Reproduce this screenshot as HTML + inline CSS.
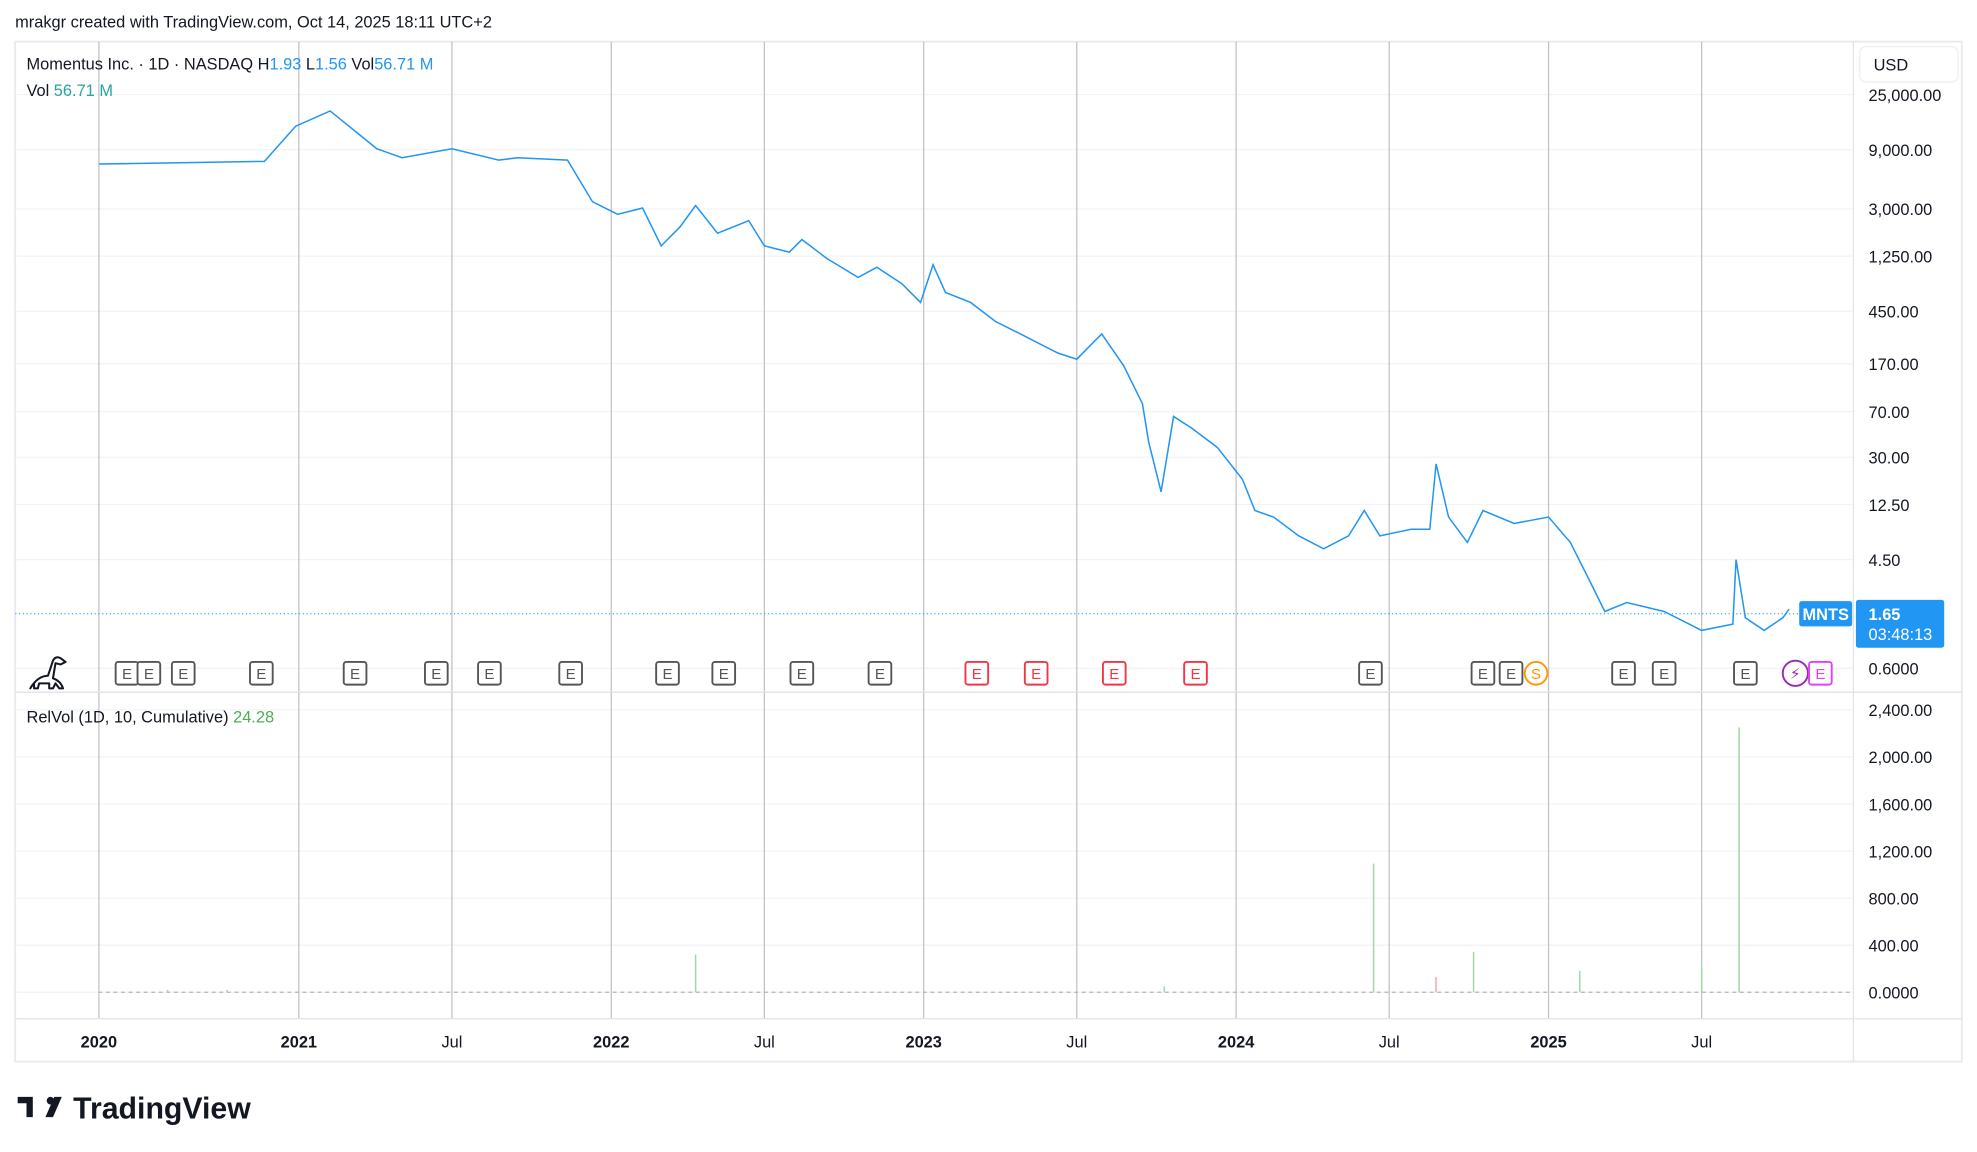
<!DOCTYPE html>
<html><head><meta charset="utf-8"><style>
html,body{margin:0;padding:0;background:#fff;}
svg{display:block;font-family:"Liberation Sans","DejaVu Sans",sans-serif;}
</style></head><body>
<svg id="chart" width="1977" height="1152" viewBox="0 0 1568 913.7" xmlns="http://www.w3.org/2000/svg" xml:space="preserve">
<rect x="0" y="0" width="1568" height="914" fill="#fff"/>
<text x="12" y="22" font-size="13" fill="#131722">mrakgr created with TradingView.com, Oct 14, 2025 18:11 UTC+2</text>
<rect x="12" y="33" width="1544" height="809" fill="none" stroke="#e8eaef" stroke-width="1.5"/>
<g id="grid"></g>
<line x1="1470" y1="33" x2="1470" y2="842" stroke="#e0e3eb"/>
<line x1="12" y1="549" x2="1556" y2="549" stroke="#e0e3eb"/>
<line x1="12" y1="808" x2="1556" y2="808" stroke="#e0e3eb"/>
<g id="bars"></g>
<g id="price"></g>
<g id="axes"></g>
<g id="events"></g>
<text x="21" y="55" font-size="13" fill="#131722">Momentus Inc. · 1D · NASDAQ  H<tspan fill="#2196f3">1.93</tspan>  L<tspan fill="#2196f3">1.56</tspan>  Vol<tspan fill="#2196f3">56.71 M</tspan></text>
<text x="21" y="76" font-size="13" fill="#131722">Vol  <tspan fill="#26a69a">56.71 M</tspan></text>
<text x="21" y="573" font-size="13" fill="#131722">RelVol (1D, 10, Cumulative)  <tspan fill="#4caf50">24.28</tspan></text>
<rect x="1475" y="37" width="78" height="28" rx="5" fill="#fff" stroke="#eceef2"/>
<text x="1486" y="56" font-size="13" fill="#131722">USD</text>
<g>
<path d="M14 870 h12 v16 h-5 v-11 h-7 z" fill="#131722"/>
<circle cx="40" cy="873" r="3" fill="#131722"/>
<path d="M36 886 l7 -16 h6 l-7 16 z" fill="#131722"/>
<text x="58" y="887" font-size="24" font-weight="bold" fill="#131722">TradingView</text>
</g>
<path d="M24 546 q6 -10 14 -10 l4 -12 q2 -4 6 -2 l4 3 l-4 2 l-4 -1 l-2 12 q6 2 8 8 h-3 l-3 -4 l-2 4 h-3 l0 -4 h-8 l-1 4 h-3 l0 -4 q-2 2 -3 4 z" fill="none" stroke="#131722" stroke-width="1.6" stroke-linejoin="round"/>
</svg>
<script>
const priceTicks=[25000,9000,3000,1250,450,170,70,30,12.5,4.5,0.6];
const priceTickLabels=["25,000.00","9,000.00","3,000.00","1,250.00","450.00","170.00","70.00","30.00","12.50","4.50","0.6000"];
const relTicks=[2400,2000,1600,1200,800,400,0];
const relTickLabels=["2,400.00","2,000.00","1,600.00","1,200.00","800.00","400.00","0.0000"];
const timeTicks=[2020.36,2021,2021.49,2022,2022.49,2023,2023.49,2024,2024.49,2025,2025.49];
const timeTickLabels=["2020","2021","Jul","2022","Jul","2023","Jul","2024","Jul","2025","Jul"];
const dates=[2020.36,2020.89,2020.99,2021.10,2021.25,2021.33,2021.49,2021.64,2021.70,2021.86,2021.94,2022.02,2022.10,2022.16,2022.22,2022.27,2022.34,2022.44,2022.49,2022.57,2022.61,2022.69,2022.79,2022.85,2022.93,2022.99,2023.03,2023.07,2023.15,2023.23,2023.31,2023.35,2023.43,2023.49,2023.57,2023.64,2023.70,2023.72,2023.76,2023.80,2023.86,2023.94,2024.02,2024.06,2024.12,2024.20,2024.28,2024.36,2024.41,2024.46,2024.56,2024.62,2024.64,2024.68,2024.74,2024.79,2024.89,2025.00,2025.07,2025.14,2025.18,2025.25,2025.37,2025.45,2025.49,2025.59,2025.60,2025.63,2025.69,2025.75,2025.77];
const prices=[6900,7240,13900,18450,9140,7760,9140,7410,7760,7410,3430,2716,3050,1513,2149,3197,1910,2415,1513,1346,1700,1198,843,1016,750,529,1065,637,529,372,295,262,207,185,295,164,81,40,15.8,64,51,36,20,11.2,9.9,7.0,5.5,7.0,11.2,7.0,7.9,7.9,26.5,9.9,6.2,11.2,8.8,9.9,6.2,2.75,1.72,2.03,1.72,1.36,1.21,1.36,4.5,1.53,1.21,1.53,1.80];
const relDates=[2020.58,2020.77,2022.27,2023.77,2024.44,2024.64,2024.76,2025.10,2025.49,2025.61];
const relValues=[20,20,321,50,1093,130,343,182,214,2250];
const relUp=[true,true,true,true,true,false,true,true,true,true];
const eventDates=[2020.45,2020.52,2020.63,2020.88,2021.18,2021.44,2021.61,2021.87,2022.18,2022.36,2022.61,2022.86,2023.17,2023.36,2023.61,2023.87,2024.43,2024.79,2024.88,2024.96,2025.24,2025.37,2025.63,2025.79,2025.87];
const eventTypes=["E","E","E","E","E","E","E","E","E","E","E","E","R","R","R","R","E","E","E","S","E","E","E","P","M"];
const currentPrice=1.65;

const NS="http://www.w3.org/2000/svg";
const xS=y=>237+(y-2021)*247.8;
const yP=p=>75+(4.398-Math.log10(p))*98.5;
const yR=v=>787-v/2400*224;
function mk(tag,attrs,parent,text){const e=document.createElementNS(NS,tag);for(const k in attrs)e.setAttribute(k,attrs[k]);if(text!==undefined)e.textContent=text;parent.appendChild(e);return e;}
const grid=document.getElementById('grid'),axes=document.getElementById('axes'),bars=document.getElementById('bars'),price=document.getElementById('price'),events=document.getElementById('events');
priceTicks.forEach((p,i)=>{
  const l=mk('line',{x1:12,x2:1470,y1:yP(p),y2:yP(p),stroke:'#f2f3f6'},grid);
  
  
  const t=mk('text',{x:1482,y:yP(p)+5,'font-size':13,fill:'#131722'},axes,priceTickLabels[i]);
  
  
});
relTicks.forEach((v,i)=>{
  const l=mk('line',{x1:12,x2:1470,y1:yR(v),y2:yR(v),stroke:'#f2f3f6'},grid);
  
  
  const t=mk('text',{x:1482,y:yR(v)+5,'font-size':13,fill:'#131722'},axes,relTickLabels[i]);
  
  
});
timeTicks.forEach((d,i)=>{
  const l=mk('line',{x1:xS(d),x2:xS(d),y1:33,y2:808,stroke:'#bfc2c8'},grid);
  
  
  const yr=/^\d/.test(timeTickLabels[i]);
  const t=mk('text',{x:xS(d),y:831,'font-size':13,'text-anchor':'middle',fill:'#131722','font-weight':yr?'bold':'normal'},axes,timeTickLabels[i]);
  
  
});
const base=mk('line',{x1:78,x2:1470,y1:yR(0),y2:yR(0),stroke:'#b0b4bd','stroke-dasharray':'3 3'},grid);


relDates.forEach((d,i)=>{
  const b=mk('line',{x1:xS(d),x2:xS(d),y1:yR(0),y2:yR(relValues[i]),stroke:relUp[i]?'#a5d6a7':'#f7a9a7','stroke-width':1.2},bars);
  
  
});
const pts=dates.map((d,i)=>xS(d).toFixed(1)+','+yP(prices[i]).toFixed(1)).join(' ');
const line=mk('polyline',{points:pts,fill:'none',stroke:'#2196f3','stroke-width':1.2},price);


const cp=mk('line',{x1:12,x2:1427,y1:yP(currentPrice),y2:yP(currentPrice),stroke:'#2196f3','stroke-dasharray':'1 2','stroke-width':0.8},price);


const cy=yP(currentPrice);
const tag=mk('rect',{x:1427,y:cy-10,width:42,height:20,rx:2,fill:'#2196f3'},price);


mk('text',{x:1448,y:cy+5,'font-size':13,'font-weight':'bold','text-anchor':'middle',fill:'#fff'},price,'MNTS');
const pl=mk('rect',{x:1472,y:cy-11,width:70,height:38,rx:2,fill:'#2196f3'},price);


mk('text',{x:1482,y:cy+5,'font-size':13,'font-weight':'bold',fill:'#fff'},price,currentPrice.toFixed(2));
mk('text',{x:1482,y:cy+21,'font-size':13,fill:'#fff'},price,'03:48:13');
eventDates.forEach((d,i)=>{
  const x=xS(d),y=534,t=eventTypes[i];
  const g=mk('g',{},events);
  
  
  if(t==='S'){mk('circle',{cx:x,cy:y,r:9,fill:'#fff',stroke:'#ff9800','stroke-width':1.5},g);mk('text',{x:x,y:y+4.5,'font-size':12,'text-anchor':'middle',fill:'#ff9800'},g,'S');return;}
  if(t==='P'){mk('circle',{cx:x,cy:y,r:10,fill:'#fff',stroke:'#9c27b0','stroke-width':1.5},g);mk('text',{x:x,y:y+4.5,'font-size':12,'text-anchor':'middle',fill:'#9c27b0'},g,'⚡');return;}
  const col=t==='R'?'#f23645':(t==='M'?'#e040fb':'#555');
  mk('rect',{x:x-9,y:y-9,width:18,height:18,rx:2,fill:'#fff',stroke:col,'stroke-width':1.5},g);
  mk('text',{x:x,y:y+4.5,'font-size':12,'text-anchor':'middle',fill:col},g,'E');
});
</script>
</body></html>
